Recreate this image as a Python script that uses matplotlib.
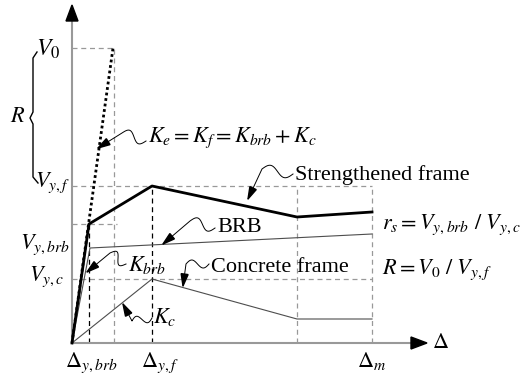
import numpy as np
import matplotlib
matplotlib.use("Agg")
import matplotlib.pyplot as plt

plt.rcParams['font.family'] = ['Liberation Serif', 'DejaVu Serif']
plt.rcParams['mathtext.fontset'] = 'stix'

# schematic curves (units: drift / shear in drawing units)
x_strong = [0, 17, 80, 225, 300]
y_strong = [0, 119, 157, 126, 131]
x_brb = [0, 18, 300]
y_brb = [0, 95, 109]
x_conc = [0, 80, 225, 300]
y_conc = [0, 64, 24, 24]
x_ke = [0, 41]
y_ke = [0, 295]

# characteristic values
d_ybrb, d_v0, d_yf, d_soft, d_m = 17, 42, 80, 225, 300
V0, Vyf, Vkink, Vyc = 295, 157, 119, 64

fig = plt.figure(figsize=(5.26, 3.81), dpi=100)
ax = fig.add_axes([0, 0, 1, 1])
ax.set_xlim(-72, 454)
ax.set_ylim(-38, 343)
ax.axis('off')

gray = '0.6'
dash = dict(lw=0.9, dashes=(4, 3))

def head(tip, frm, L=12, W=7, c='k'):
    tip = np.array(tip, float); frm = np.array(frm, float)
    d = tip - frm; d /= np.hypot(*d)
    p = np.array([-d[1], d[0]])
    base = tip - L * d
    pts = np.array([tip, base + W / 2 * p, base - W / 2 * p])
    ax.fill(pts[:, 0], pts[:, 1], color=c, zorder=5)

def leader(start, mid, tip, amp=5):
    # wavy part from start to mid, then straight to the arrow tip
    start = np.array(start, float); mid = np.array(mid, float); tip = np.array(tip, float)
    t = np.linspace(0, 1, 100)
    d = mid - start
    p = np.array([-d[1], d[0]]) / np.hypot(*d)
    off = amp * np.sin(2 * np.pi * t)
    wave = start[None, :] + t[:, None] * d[None, :] + off[:, None] * p[None, :]
    pts = np.vstack([wave, tip])
    ax.plot(pts[:, 0], pts[:, 1], color='k', lw=0.7)
    head(tip, mid)

# dashed guide lines
ax.plot([0, d_v0], [V0, V0], color=gray, **dash)
ax.plot([d_v0, d_v0], [0, V0], color=gray, **dash)
ax.plot([0, d_m], [Vyf, Vyf], color=gray, **dash)
ax.plot([0, 45], [Vkink, Vkink], color=gray, **dash)
ax.plot([0, d_m], [Vyc, Vyc], color=gray, **dash)
ax.plot([d_soft, d_soft], [0, Vyf], color=gray, **dash)
ax.plot([d_m, d_m], [0, Vyf], color=gray, **dash)
ax.plot([d_ybrb, d_ybrb], [0, Vkink], color='k', **dash)
ax.plot([d_yf, d_yf], [0, Vyf], color='k', **dash)

# axes
ax.plot([0, 0], [0, 324], color=gray, lw=1.5)
head((0, 338), (0, 0), L=16, W=12)
ax.plot([0, 341], [0, 0], color=gray, lw=1.5)
head((355, 0), (0, 0), L=16, W=12)

# curves
ax.plot(x_ke, y_ke, color='k', lw=2, linestyle=(0, (1, 1)))
ax.plot(x_brb, y_brb, color='0.3', lw=0.8)
ax.plot(x_conc, y_conc, color='0.3', lw=0.8)
ax.plot(x_strong, y_strong, color='k', lw=2)

# brace for R
by = np.array([291, 285, 231, 225, 219, 166, 160])
bx = np.array([-35, -39, -39, -42, -39, -39, -34])
ax.plot(bx, by, color='k', lw=1)

fs = 16
ax.text(-12, 294, '$V_0$', fontsize=17, ha='right', va='center')
ax.text(-54, 225, '$R$', fontsize=fs, ha='center', va='center')
ax.text(-2, 160, '$V_{y,f}$', fontsize=fs, ha='right', va='center')
ax.text(-2, 98, '$V_{y,brb}$', fontsize=fs, ha='right', va='center')
ax.text(-8, 66, '$V_{y,c}$', fontsize=fs, ha='right', va='center')
ax.text(d_ybrb + 2, -20, r'$\Delta_{y,brb}$', fontsize=fs, ha='center', va='center')
ax.text(d_yf + 8, -20, r'$\Delta_{y,f}$', fontsize=fs, ha='center', va='center')
ax.text(d_m, -18, r'$\Delta_m$', fontsize=fs, ha='center', va='center')
ax.text(360, 0, r'$\Delta$', fontsize=fs, ha='left', va='center')
ax.text(76, 205, '$K_e = K_f = K_{brb} + K_c$', fontsize=fs, ha='left', va='center')
ax.text(223, 168, 'Strengthened frame', fontsize=fs, ha='left', va='center')
ax.text(145, 115, 'BRB', fontsize=fs, ha='left', va='center')
ax.text(139, 76, 'Concrete frame', fontsize=fs, ha='left', va='center')
ax.text(56, 78, '$K_{brb}$', fontsize=fs, ha='left', va='center')
ax.text(81, 26, '$K_c$', fontsize=fs, ha='left', va='center')
ax.text(310, 118, '$r_s = V_{y,brb}\\ /\\ V_{y,c}$', fontsize=fs, ha='left', va='center')
ax.text(310, 73, '$R = V_0\\ /\\ V_{y,f}$', fontsize=fs, ha='left', va='center')

# wavy leaders
leader((74, 202), (50, 210), (26, 195))
leader((221, 169), (190, 174), (176, 144))
leader((143, 115), (118, 122), (91, 99))
leader((54, 79), (38, 90), (15, 71))
leader((137, 79), (114, 79), (111, 57), amp=4)
leader((80, 25), (60, 22), (51, 39), amp=4)

fig.savefig('out.png', dpi=100)
